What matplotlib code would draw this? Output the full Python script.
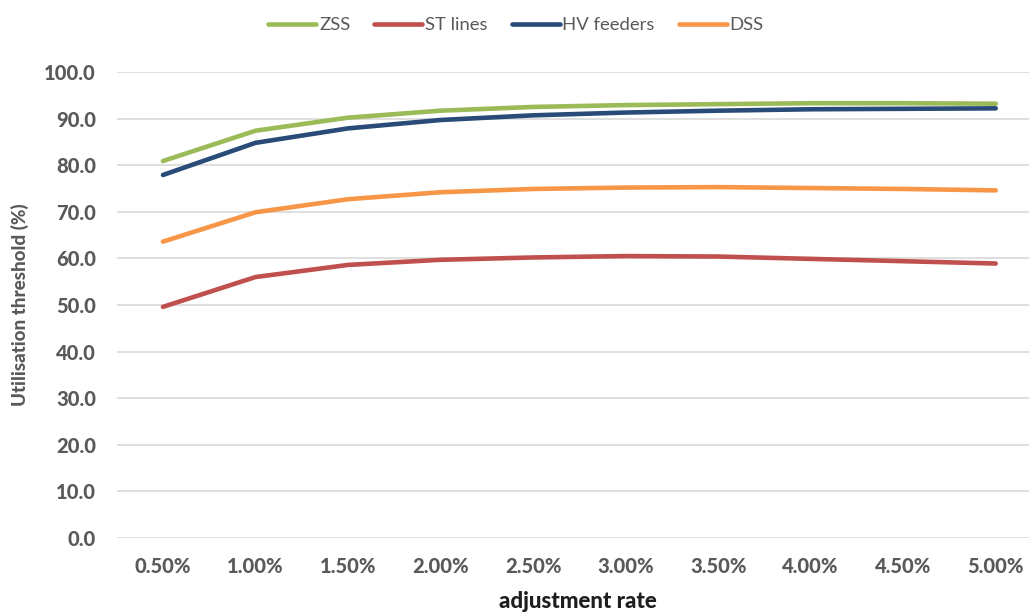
import matplotlib.pyplot as plt

# 数据
rates = ["0.50%", "1.00%", "1.50%", "2.00%", "2.50%", "3.00%", "3.50%", "4.00%", "4.50%", "5.00%"]
zss = [80.9, 87.4, 90.2, 91.7, 92.5, 92.9, 93.1, 93.3, 93.3, 93.2]
st_lines = [49.6, 56.0, 58.6, 59.7, 60.2, 60.5, 60.4, 59.9, 59.4, 58.9]
hv_feeders = [77.9, 84.8, 87.9, 89.7, 90.7, 91.3, 91.7, 92.0, 92.1, 92.2]
dss = [63.6, 69.9, 72.7, 74.2, 74.9, 75.2, 75.3, 75.1, 74.9, 74.6]

plt.rcParams["font.family"] = ["Lato", "DejaVu Sans"]

fig = plt.figure(figsize=(10.29, 6.12), dpi=100)
# 绘图区位置 (右侧被图片边缘裁掉一点)
ax = fig.add_axes([116.7 / 1029, 1 - 538 / 612, (1042 - 116.7) / 1029, (538 - 72) / 612])

x = range(len(rates))
ax.plot(x, zss, color="#9BBB59", lw=3.3, solid_capstyle="round", label="ZSS")
ax.plot(x, st_lines, color="#C0504D", lw=3.3, solid_capstyle="round", label="ST lines")
ax.plot(x, hv_feeders, color="#284B78", lw=3.3, solid_capstyle="round", label="HV feeders")
ax.plot(x, dss, color="#F79646", lw=3.3, solid_capstyle="round", label="DSS")

ax.set_xlim(-0.5, 9.5)
ax.set_ylim(0, 100)
ax.set_yticks(range(0, 101, 10))
ax.set_yticklabels([f"{v:.1f}" for v in range(0, 101, 10)])
ax.set_xticks(list(x))
ax.set_xticklabels(rates)

ax.grid(axis="y", color="#D9D9D9", lw=1.2)
ax.set_axisbelow(True)
for s in ax.spines.values():
    s.set_visible(False)
ax.tick_params(length=0, labelsize=14.5, colors="#595959")
ax.tick_params(axis="y", pad=15)
ax.tick_params(axis="x", pad=14)
for lbl in ax.get_xticklabels() + ax.get_yticklabels():
    lbl.set_fontweight("black")

# 坐标轴标题
fig.text(20 / 1029, 1 - 305 / 612, "Utilisation threshold (%)", rotation=90, ha="center", va="center",
         fontsize=13.5, fontweight="black", color="#595959")
fig.text(578 / 1029, 1 - 602 / 612, "adjustment rate", ha="center", va="center",
         fontsize=16, fontweight="black", color="#1E1E1E")

fig.legend(loc="center", bbox_to_anchor=(516 / 1029, 1 - 25 / 612), ncol=4, frameon=False,
           fontsize=13.3, handlelength=2.6, handletextpad=0.15, columnspacing=1.3,
           labelcolor="#595959")

fig.savefig("out.png", dpi=100)
